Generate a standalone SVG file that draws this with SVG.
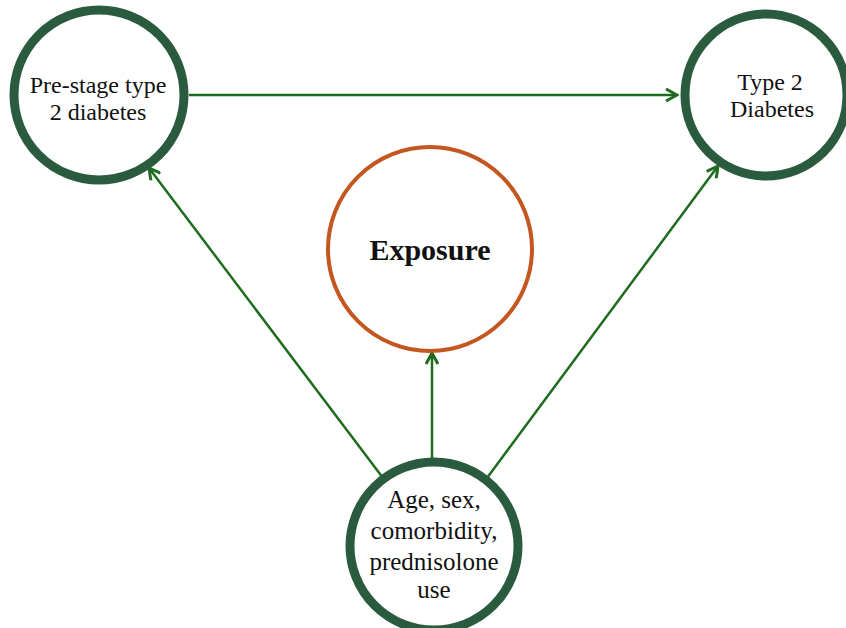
<svg xmlns="http://www.w3.org/2000/svg" width="846" height="628" viewBox="0 0 846 628">
<style>
.ring{fill:#fff;stroke:#2a5b3f;stroke-width:9}
.expo{fill:#fff;stroke:#c4561f;stroke-width:4}
.t{font-family:"Liberation Serif","Times New Roman",serif;font-size:24px;fill:#111;text-anchor:middle}
.b{font-size:25px}
.conn line{stroke:#1f6b1f;stroke-width:2.5;fill:none}
</style>
<defs>
<marker id="ah" viewBox="0 0 14 14" refX="12.5" refY="7" markerWidth="14" markerHeight="14" markerUnits="userSpaceOnUse" orient="auto">
<path d="M1.5,1 L12.5,7 L1.5,13" fill="none" stroke="#1f6b1f" stroke-width="3" stroke-linejoin="miter"/>
</marker>
</defs>
<rect width="846" height="628" fill="#fff"/>
<g id="connectors" class="conn">
<line x1="189" y1="95" x2="677" y2="95" marker-end="url(#ah)"/>
<line x1="432" y1="460" x2="432" y2="353" marker-end="url(#ah)"/>
<line x1="383" y1="478" x2="149" y2="168" marker-end="url(#ah)"/>
<line x1="487" y1="478" x2="718" y2="166" marker-end="url(#ah)"/>
</g>
<g id="prestage">
<circle class="ring" cx="99" cy="95" r="85"/>
<text class="t" x="98" y="93">Pre-stage type</text>
<text class="t" x="98" y="120">2 diabetes</text>
</g>
<g id="t2d">
<circle class="ring" cx="766" cy="95" r="81"/>
<text class="t" x="770" y="90">Type 2</text>
<text class="t" x="772" y="117">Diabetes</text>
</g>
<g id="exposure">
<circle class="expo" cx="430" cy="249" r="102"/>
<text class="t" x="430" y="260" style="font-size:30px;font-weight:bold">Exposure</text>
</g>
<g id="confounders">
<circle class="ring" cx="434" cy="546" r="84"/>
<text class="t b" x="434" y="508">Age, sex,</text>
<text class="t b" x="434" y="539">comorbidity,</text>
<text class="t b" x="434" y="570">prednisolone</text>
<text class="t b" x="434" y="598">use</text>
</g>
</svg>
